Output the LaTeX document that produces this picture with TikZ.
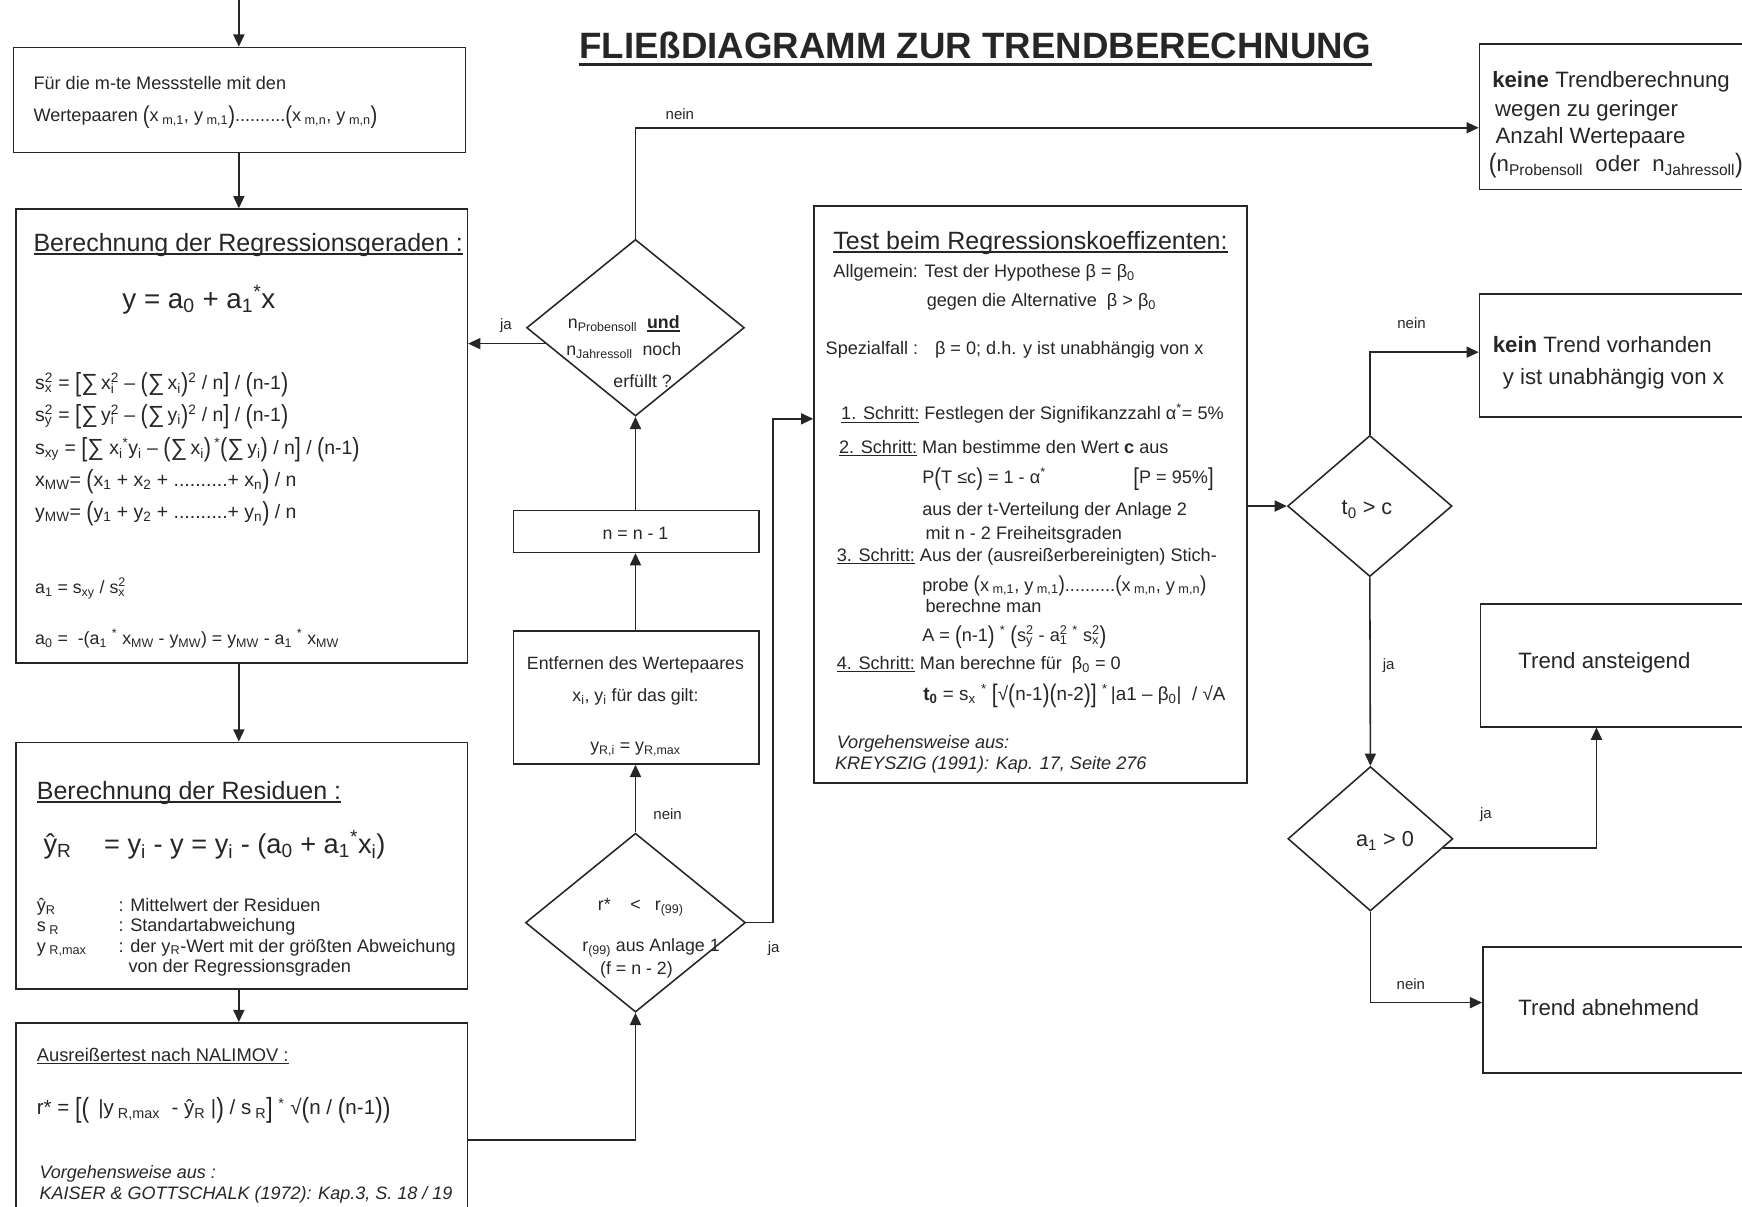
\documentclass[tikz,border=0pt]{standalone}
\usepackage{fontspec}
\setmainfont{Liberation Sans}
\usepackage{graphicx}
\usetikzlibrary{shapes.geometric,arrows.meta,calc}
\definecolor{ink}{HTML}{262626}
\newcommand\sub[1]{\textsubscript{#1}}
\newcommand\sups[1]{\textsuperscript{#1}}
\newcommand\ssp[2]{\rlap{\textsubscript{#1}}\textsuperscript{#2}}
\newcommand\BP[1]{\raisebox{-0.1em}{\scalebox{1.12}[1.35]{#1}}}
\newcommand\SP[1]{\raisebox{-0.05em}{\scalebox{1.05}[1.2]{#1}}}
\newcommand\BS{\raisebox{-0.05em}{\scalebox{1.2}{∑}}}
\newsavebox\ulbox
\newcommand\ulx[3]{\sbox\ulbox{#3}\rlap{\raisebox{-#1}{\rule{\wd\ulbox}{#2}}}\usebox\ulbox}
\tikzset{
  fs/.style={font=\fontsize{#1}{#1}\selectfont},
  fsi/.style={font=\fontsize{#1}{#1}\selectfont\itshape},
  tx/.style={inner sep=0pt, anchor=base west, text=ink},
  tc/.style={inner sep=0pt, anchor=base, text=ink},
  box/.style={draw=ink, line width=1.4pt, rectangle, inner sep=0pt, anchor=north west},
  dia/.style={draw=ink, line width=1.4pt, diamond, inner sep=0pt},
  arr/.style={draw=ink, line width=1.4pt, -{Triangle[length=11pt,width=10pt]}},
  lab/.style={tx, fs=13.5},
}
\begin{document}
\begin{tikzpicture}[x=1pt,y=-1pt]
\useasboundingbox (0,0) rectangle (1568,1086);
\clip (0,0) rectangle (1568,1086);

% title
\node[tc, font=\fontsize{33}{36}\selectfont\bfseries] (title) at (878,53) {\ulx{6pt}{2.6pt}{FLIEßDIAGRAMM ZUR TRENDBERECHNUNG}};

% ---------- boxes ----------
\node[box, minimum width=407pt, minimum height=94.5pt] (b1) at (11.4,42) {};
\node[box, minimum width=406.5pt, minimum height=408.5pt] (b2) at (13.5,187.5) {};
\node[box, minimum width=406.5pt, minimum height=222pt] (b3) at (13.5,667.5) {};
\node[box, minimum width=406.5pt, minimum height=190pt] (b4) at (13.5,920) {};
\node[box, minimum width=221pt, minimum height=37.5pt] (nn) at (461.5,459) {};
\node[box, minimum width=221pt, minimum height=119.5pt] (ent) at (461.5,567.5) {};
\node[box, minimum width=389.5pt, minimum height=519.5pt] (test) at (732,184.5) {};
\node[box, minimum width=260pt, minimum height=131pt] (keine) at (1331,39) {};
\node[box, minimum width=260pt, minimum height=110.4pt] (kein) at (1331,264) {};
\node[box, minimum width=260pt, minimum height=110.5pt] (anst) at (1332,543) {};
\node[box, minimum width=260pt, minimum height=113.5pt] (abn) at (1334,851.5) {};

% ---------- diamonds ----------
\node[dia, minimum width=196pt, minimum height=159pt] (d1) at (572,295) {};
\node[dia, minimum width=198pt, minimum height=161pt] (d2) at (572,830.5) {};
\node[dia, minimum width=148pt, minimum height=127pt] (d3) at (1233,455.5) {};
\node[dia, minimum width=148.5pt, minimum height=130pt] (d4) at (1233.5,755) {};

% ---------- box 1 ----------
\node[tx, fs=16.3] (b1a) at (30,81) {Für die m-te Messstelle mit den};
\node[tx, fs=16.3] (b1b) at (30,109.5) {Wertepaaren \BP{(}x\sub{ m,1}, y\sub{ m,1}\BP{)}..........\BP{(}x\sub{ m,n}, y\sub{ m,n}\BP{)}};

% ---------- box 2 ----------
\node[tx, fs=22.5] (b2h) at (30,226.5) {\ulx{3pt}{1.4pt}{Berechnung der Regressionsgeraden :}};
\node[tx, fs=25] (b2y) at (110,277.5) {y = a\sub{0} + a\sub{1}\sups{*}x};
\node[tx, fs=17.5] (b2f1) at (31.5,351) {s\ssp{x}{2} = \BP{[}\BS\,x\ssp{i}{2} – \BP{(}\BS\,x\sub{i}\BP{)}\sups{2} / n\BP{]} / \BP{(}n-1\BP{)}};
\node[tx, fs=17.5] (b2f2) at (31.5,379.5) {s\ssp{y}{2} = \BP{[}\BS\,y\ssp{i}{2} – \BP{(}\BS\,y\sub{i}\BP{)}\sups{2} / n\BP{]} / \BP{(}n-1\BP{)}};
\node[tx, fs=17.5] (b2f3) at (31.5,409.5) {s\sub{xy} = \BP{[}\BS\ x\sub{i}\sups{*}y\sub{i} – \BP{(}\BS\,x\sub{i}\BP{)}\,\sups{*}\BP{(}\BS\,y\sub{i}\BP{)} / n\BP{]} / \BP{(}n-1\BP{)}};
\node[tx, fs=17.5] (b2f4) at (31.5,438) {x\sub{MW}= \BP{(}x\sub{1} + x\sub{2} + ..........+ x\sub{n}\BP{)} / n};
\node[tx, fs=17.5] (b2f5) at (31.5,466.5) {y\sub{MW}= \BP{(}y\sub{1} + y\sub{2} + ..........+ y\sub{n}\BP{)} / n};
\node[tx, fs=16] (b2f6) at (31.5,534) {a\sub{1} = s\sub{xy} / s\ssp{x}{2}};
\node[tx, fs=16] (b2f7) at (31.5,580.5) {a\sub{0} = \ -(a\sub{1} \sups{*} x\sub{MW} - y\sub{MW}) = y\sub{MW} - a\sub{1} \sups{*} x\sub{MW}};

% ---------- box 3 ----------
\node[tx, fs=22.5] (b3h) at (33,719.5) {\ulx{3pt}{1.4pt}{Berechnung der Residuen :}};
\node[tx, fs=24.5] (b3f) at (39,768.5) {ŷ\sub{R}\hspace{1.2em}= y\sub{i} - y = y\sub{i} - (a\sub{0} + a\sub{1}\sups{*}x\sub{i})};
\node[tx, fs=16.3] (l1a) at (33,820.5) {ŷ\sub{R}};
\node[tx, fs=16.3] (l1b) at (106.5,820.5) {: Mittelwert der Residuen};
\node[tx, fs=16.3] (l2a) at (33,838.5) {s\sub{ R}};
\node[tx, fs=16.3] (l2b) at (106.5,838.5) {: Standartabweichung};
\node[tx, fs=16.3] (l3a) at (33,857) {y\sub{ R,max}};
\node[tx, fs=16.3] (l3b) at (106.5,857) {: der y\sub{R}-Wert mit der größten Abweichung};
\node[tx, fs=16.3] (l4b) at (115.5,875.5) {von der Regressionsgraden};

% ---------- box 4 ----------
\node[tx, fs=16.5] (b4h) at (33,955.5) {\ulx{2.5pt}{1.1pt}{Ausreißertest nach NALIMOV :}};
\node[tx, fs=18.5] (b4f) at (33,1003.6) {r* = \BP{[}\BP{(} \,|y\sub{ R,max} \ - ŷ\sub{R} |\BP{)} / s\sub{ R}\BP{]} \sups{*} √\BP{(}n / \BP{(}n-1\BP{)}\BP{)}};
\node[tx, fsi=16.2] (b4r1) at (35.4,1060.6) {Vorgehensweise aus :};
\node[tx, fsi=16.2] (b4r2) at (35.4,1080) {KAISER \& GOTTSCHALK (1972): Kap.3, S. 18 / 19};

% ---------- middle column ----------
\node[tx, fs=16] (d1a) at (511,296) {n\sub{Probensoll} \ \ulx{2.5pt}{1.2pt}{\textbf{und}}};
\node[tx, fs=16] (d1b) at (509.5,320) {n\sub{Jahressoll} \ noch};
\node[tx, fs=16] (d1c) at (552,349) {erfüllt ?};
\node[tc, fs=16] (nnt) at (572,486) {n = n - 1};
\node[tc, fs=16] (ent1) at (572,603) {Entfernen des Wertepaares};
\node[tc, fs=16] (ent2) at (572,631.5) {x\sub{i}, y\sub{i} für das gilt:};
\node[tc, fs=16] (ent3) at (572,676.5) {y\sub{R,i} = y\sub{R,max}};
\node[tx, fs=16] (d2a) at (538,819.7) {r*\hspace{1.1em}<\hspace{0.8em}r\sub{(99)}};
\node[tx, fs=16] (d2b) at (524,856.6) {r\sub{(99)} aus Anlage 1};
\node[tx, fs=16] (d2c) at (540,877.5) {(f = n - 2)};

% ---------- test box ----------
\node[tx, fs=22.5] (th) at (750,224.4) {\ulx{3pt}{1.4pt}{Test beim Regressionskoeffizenten:}};
\node[tx, fs=16.3] (t1) at (750,249.6) {Allgemein: Test der Hypothese β = β\sub{0}};
\node[tx, fs=16.3] (t2) at (834,276) {gegen die Alternative \ β > β\sub{0}};
\node[tx, fs=16.3] (t3) at (743,319.5) {Spezialfall : \ \ β = 0; d.h. y ist unabhängig von x};
\node[tx, fs=16.3] (t4) at (757,378) {\ulx{2.5pt}{1pt}{1. Schritt:} Festlegen der Signifikanzzahl α\sups{*}= 5\%};
\node[tx, fs=16.3] (t5) at (755,408) {\ulx{2.5pt}{1pt}{2. Schritt:} Man bestimme den Wert \textbf{c} aus};
\node[tx, fs=16.3] (t6) at (830,435) {P\BP{(}T ≤c\BP{)} = 1 - α\sups{*}};
\node[tx, fs=16.3] (t6b) at (1020,435) {\BP{[}P = 95\%\BP{]}};
\node[tx, fs=16.3] (t7) at (830,464.4) {aus der t-Verteilung der Anlage 2};
\node[tx, fs=16.3] (t8) at (833,486) {mit n - 2 Freiheitsgraden};
\node[tx, fs=16.3] (t9) at (753,505.5) {\ulx{2.5pt}{1pt}{3. Schritt:} Aus der (ausreißerbereinigten) Stich-};
\node[tx, fs=16.3] (t10) at (830,532) {probe \SP{(}x\sub{ m,1}, y\sub{ m,1}\SP{)}..........\SP{(}x\sub{ m,n}, y\sub{ m,n}\SP{)}};
\node[tx, fs=16.3] (t11) at (833,551.5) {berechne man};
\node[tx, fs=16.3] (t12) at (830,577.5) {A = \BP{(}n-1\BP{)} \sups{*} \BP{(}s\ssp{y}{2} - a\ssp{1}{2} \sups{*} s\ssp{x}{2}\BP{)}};
\node[tx, fs=16.3] (t13) at (753,602.4) {\ulx{2.5pt}{1pt}{4. Schritt:} Man berechne für \ β\sub{0} = 0};
\node[tx, fs=17] (t14) at (831,630.6) {\textbf{t\sub{0}} = s\sub{x} \sups{*} \BP{[}√\BP{(}n-1\BP{)}\BP{(}n-2\BP{)}\BP{]} \sups{*}\,|a1 – β\sub{0}| \ / √A};
\node[tx, fsi=16.3] (t15) at (753,673.5) {Vorgehensweise aus:};
\node[tx, fsi=16.3] (t16) at (751.5,693) {KREYSZIG (1991): Kap. 17, Seite 276};

% ---------- right column ----------
\node[tx, fs=20] (k1) at (1343,78.6) {\textbf{keine} Trendberechnung};
\node[tx, fs=20] (k2) at (1345.6,105) {wegen zu geringer};
\node[tx, fs=20] (k3) at (1346,129.6) {Anzahl Wertepaare};
\node[tx, fs=20] (k4) at (1340,154.5) {\SP{(}n\sub{Probensoll}\ \ oder\ \ n\sub{Jahressoll}\SP{)}};
\node[tx, fs=20] (kt1) at (1343.5,317) {\textbf{kein} Trend vorhanden};
\node[tx, fs=20] (kt2) at (1352.5,346.5) {y ist unabhängig von x};
\node[tx, fs=19.5] (d3t) at (1207.5,463.5) {t\sub{0} > c};
\node[tx, fs=19.5] (d4t) at (1220.5,762) {a\sub{1} > 0};
\node[tx, fs=20] (at) at (1366.5,601.5) {Trend ansteigend};
\node[tx, fs=20] (abt) at (1366.5,914.5) {Trend abnehmend};

% ---------- connector labels ----------
\node[lab] (lnein1) at (599,107.7) {nein};
\node[lab] (lja1) at (450,297) {ja};
\node[lab] (lnein2) at (588,738) {nein};
\node[lab] (lja2) at (691,857) {ja};
\node[lab] (lnein3) at (1257.6,295.5) {nein};
\node[lab] (lja3) at (1244.5,603) {ja};
\node[lab] (lja4) at (1332,736.5) {ja};
\node[lab] (lnein4) at (1257,891) {nein};

% ---------- connectors ----------
\coordinate (top) at (215,-2);
\draw[arr] (top) -- (top |- b1.north);
\draw[arr] (b1.south -| top) -- (top |- b2.north);
\draw[arr] (b2.south -| top) -- (top |- b3.north);
\draw[arr] (b3.south -| top) -- (top |- b4.north);
\draw[arr] (b4.east |- 0,1026) -| (d2.south);
\draw[arr] (d2.north) -- (d2.north |- ent.south);
\draw[arr] (ent.north -| d2.north) -- (d2.north |- nn.south);
\draw[arr] (nn.north -| d1.south) -- (d1.south);
\draw[arr] (d1.190) -- (d1.190 -| b2.east);
\draw[arr] (d1.north) |- (keine.west |- 0,115);
\draw[arr] (d2.east) -- ++(24,0) |- (test.west |- 0,377);
\draw[arr] (test.east |- d3.west) -- (d3.west);
\draw[arr] (d3.north) |- (kein.west |- 0,317);
\draw[arr] (d3.south) -- (d4.north);
\draw[arr] (d4.353) -| (anst.south -| 1437,0);
\draw[arr] (d4.south) |- (abn.west |- 0,902.5);
\end{tikzpicture}
\end{document}
